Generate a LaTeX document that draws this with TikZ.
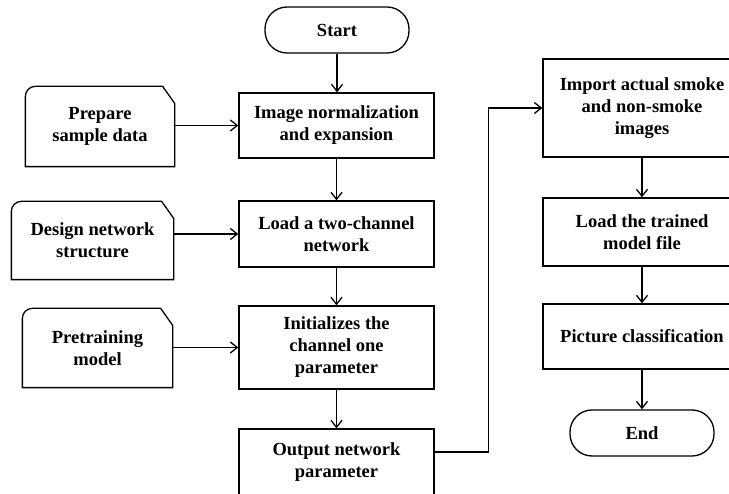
\documentclass[tikz,border=0pt]{standalone}
\usepackage{fontspec}
\setmainfont{Liberation Serif}
\usetikzlibrary{arrows.meta,positioning}

\begin{document}
\begin{tikzpicture}[x=1pt, y=1pt, line width=1.3pt, >={Straight Barb[length=7pt,width=11pt]}]
  \tikzstyle{every node}=[font=\fontsize{18.5}{22}\selectfont\bfseries, align=center]
  \tikzstyle{steps}=[draw, rectangle, minimum width=195pt, inner sep=0pt]
  \tikzstyle{runs}=[draw, rectangle, minimum width=198pt, inner sep=0pt]
  \tikzstyle{term}=[draw, rectangle, rounded corners=22pt, minimum width=144pt, minimum height=46pt]
  \tikzstyle{cards}=[rectangle, inner sep=0pt]
  \useasboundingbox (0,0) rectangle (729,-494);
  \clip (0,0) rectangle (729,-494);
  % Training column
  \node[term] (start) at (337,-30) {Start};
  \node[steps, minimum height=65pt] (norm) at (336.5,-125.5) {Image normalization\\and expansion};
  \node[steps, minimum height=66pt] (load) at (336.5,-234) {Load a two-channel\\network};
  \node[steps, minimum height=83pt] (init) at (336.5,-347.5) {Initializes the\\channel one\\parameter};
  \node[steps, minimum height=66pt] (out) at (336.5,-462) {Output network\\parameter};

  % Inputs on the left
  \node[cards, minimum width=148pt, minimum height=79pt] (prep) at (100,-126.5) {Prepare\\sample data};
  \node[cards, minimum width=161pt, minimum height=77pt] (design) at (92.5,-240.5) {Design network\\structure};
  \node[cards, minimum width=149pt, minimum height=78pt] (pre) at (97.5,-348) {Pretraining\\model};
  \foreach \c in {prep,design,pre}
    \draw ([yshift=-17pt]\c.north east) -- (\c.south east) -- (\c.south west)
      -- ([yshift=-10pt]\c.north west) arc[start angle=180, end angle=90, radius=10pt]
      -- ([xshift=-12pt]\c.north east) -- cycle;

  % Test column
  \node[runs, minimum height=98pt] (imp) at (642,-108) {Import actual smoke\\and non-smoke\\images};
  \node[runs, minimum height=68pt] (trained) at (642,-232) {Load the trained\\model file};
  \node[runs, minimum height=65pt] (cls) at (642,-336.5) {Picture classification};
  \node[term] (stop) at (642,-433) {End};

  \foreach \a/\b in {start/norm,norm/load,load/init,init/out,imp/trained,trained/cls,cls/stop}
    \draw[->] (\a.south) -- (\a.south |- \b.north);
  \foreach \a/\b in {prep/norm,design/load,pre/init}
    \draw[->] (\b.west -| \a.east) -- (\b.west);
  \draw[->] ([yshift=10pt]out.east) -- ++(54pt,0) |- (imp.west);
\end{tikzpicture}
\end{document}
